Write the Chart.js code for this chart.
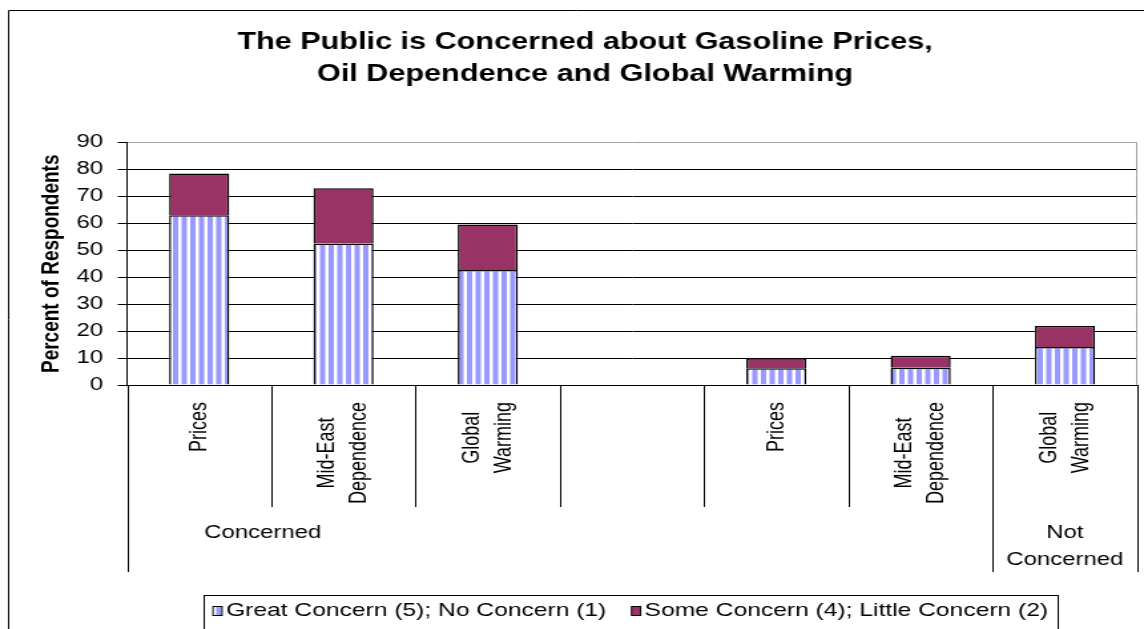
<!DOCTYPE html>
<html><head><meta charset="utf-8">
<script src="https://cdn.jsdelivr.net/npm/chart.js@4/dist/chart.umd.min.js"></script>
<style>
html,body{margin:0;padding:0;background:#fff;overflow:hidden}
#wrap{position:absolute;left:0;top:0;width:860px;height:629px;transform:scaleX(1.33023);transform-origin:0 0}
canvas{display:block}
</style></head><body>
<div id="wrap"><canvas id="c" width="860" height="629"></canvas></div>
<script>
const titleLines = ['The Public is Concerned about Gasoline Prices,', 'Oil Dependence and Global Warming'];
const categories = [['Prices'], ['Mid-East', 'Dependence'], ['Global', 'Warming'], [''], ['Prices'], ['Mid-East', 'Dependence'], ['Global', 'Warming']];
const groupLabels = [['Concerned'], ['Not', 'Concerned']];
const groupSpans = [6, 1];
const seriesNames = ['Great Concern (5); No Concern (1)', 'Some Concern (4); Little Concern (2)'];
const greatConcern = [63, 52.5, 42.7, null, 6.2, 6.4, 14.1];
const someConcern = [15.5, 20.5, 16.9, null, 3.7, 4.5, 7.8];
const yTickValues = [0, 10, 20, 30, 40, 50, 60, 70, 80, 90];
const yAxisTitle = 'Percent of Respondents';

const FONT = '"Liberation Sans", Arial, sans-serif';

// vertical stripe pattern (light blue / white)
const pc = document.createElement('canvas'); pc.width = 13; pc.height = 4;
const pctx = pc.getContext('2d');
pctx.fillStyle = '#ffffff'; pctx.fillRect(0, 0, 13, 4);
pctx.fillStyle = '#9999ff'; pctx.fillRect(0, 0, 4, 4); pctx.fillRect(6.5, 0, 4, 4);
const stripe = pctx.createPattern(pc, 'repeat');
const seriesColors = [stripe, '#993366'];

const deco = {
  id: 'deco',
  afterDraw(chart) {
    const { ctx, chartArea: a } = chart;
    const x = chart.scales.x;
    ctx.save();
    // outer frame
    ctx.strokeStyle = '#000'; ctx.lineWidth = 1;
    ctx.beginPath(); ctx.moveTo(6.5, chart.height); ctx.lineTo(6.5, 10.5); ctx.lineTo(chart.width, 10.5); ctx.stroke();
    // plot area right border
    ctx.strokeStyle = '#a0a0a0';
    ctx.beginPath(); ctx.moveTo(Math.round(a.right) - 0.5, a.top); ctx.lineTo(Math.round(a.right) - 0.5, a.bottom); ctx.stroke();
    // category dividers
    const groupBounds = [0]; let acc = 0; groupSpans.forEach(s => { acc += s; groupBounds.push(acc); });
    ctx.strokeStyle = '#000';
    for (let i = 0; i <= categories.length; i++) {
      const px = Math.round(x.getPixelForValue(i - 0.5)) + 0.5;
      const len = groupBounds.includes(i) ? 187 : 122;
      ctx.beginPath(); ctx.moveTo(px, a.bottom); ctx.lineTo(px, a.bottom + len); ctx.stroke();
    }
    // category labels (rotated)
    ctx.fillStyle = '#000';
    ctx.font = '18px ' + FONT;
    ctx.textAlign = 'center'; ctx.textBaseline = 'middle';
    categories.forEach((lines, i) => {
      const cx = x.getPixelForValue(i);
      const maxW = Math.max(0, ...lines.map(l => ctx.measureText(l).width));
      const cy = a.bottom + 17 + maxW / 2;
      lines.forEach((l, j) => {
        ctx.save();
        ctx.translate(cx + (j - (lines.length - 1) / 2) * 24, cy);
        ctx.rotate(-Math.PI / 2);
        ctx.fillText(l, 0, 0);
        ctx.restore();
      });
    });
    // group labels
    let start = 0;
    groupLabels.forEach((lines, g) => {
      const span = groupSpans[g];
      const gx = span > 1 ? x.getPixelForValue(start + 0.44) : x.getPixelForValue(start + (span - 1) / 2);
      lines.forEach((l, j) => {
        const ly = a.bottom + 148.5 + (j - (lines.length - 1) / 2) * 26.5 + (lines.length > 1 ? 13.25 : 0);
        ctx.fillText(l, gx, ly);
      });
      start += span;
    });
    // legend
    ctx.font = '18.5px ' + FONT;
    ctx.textAlign = 'left';
    const boxW = 6.8, boxH = 9, gapBT = 3, gapItems = 19;
    const widths = seriesNames.map(s => ctx.measureText(s).width);
    let total = 0;
    widths.forEach((w, i) => { total += boxW + gapBT + w + (i < widths.length - 1 ? gapItems : 0); });
    let lx = 474 - total / 2;
    const ly = 611;
    ctx.strokeStyle = '#000'; ctx.lineWidth = 1;
    ctx.strokeRect(Math.round(lx - 7) + 0.5, 595.5, Math.round(total + 14), 34);
    seriesNames.forEach((s, i) => {
      ctx.fillStyle = chart.data.datasets[i].backgroundColor;
      ctx.fillRect(lx, ly - boxH / 2, boxW, boxH);
      ctx.strokeRect(lx, ly - boxH / 2, boxW, boxH);
      ctx.fillStyle = '#000';
      ctx.fillText(s, lx + boxW + gapBT, ly);
      lx += boxW + gapBT + widths[i] + gapItems;
    });
    ctx.restore();
  }
};

new Chart(document.getElementById('c'), {
  type: 'bar',
  data: {
    labels: categories,
    datasets: [
      { label: seriesNames[0], data: greatConcern, backgroundColor: seriesColors[0], borderColor: '#000', borderWidth: 1.5, barPercentage: 0.4167, categoryPercentage: 1 },
      { label: seriesNames[1], data: someConcern, backgroundColor: seriesColors[1], borderColor: '#000', borderWidth: 1.5, barPercentage: 0.4167, categoryPercentage: 1 }
    ]
  },
  options: {
    responsive: false,
    devicePixelRatio: 1,
    animation: false,
    layout: { padding: { left: 24.8, right: 5.2, top: 0, bottom: 0 } },
    plugins: {
      legend: { display: false },
      tooltip: { enabled: false },
      title: {
        display: true, text: titleLines, color: '#000',
        font: { family: FONT, size: 23, weight: 'bold', lineHeight: 1.41 },
        padding: { top: 26.25, bottom: 51.4 }
      }
    },
    scales: {
      x: {
        stacked: true,
        offset: true,
        grid: { display: false },
        border: { display: true, color: '#000', width: 1 },
        ticks: { display: false },
        afterFit: s => { s.height = 244; }
      },
      y: {
        stacked: true,
        min: 0, max: 90,
        afterBuildTicks: s => { s.ticks = yTickValues.map(v => ({ value: v })); },
        afterFit: s => { s.width = 70.7; },
        grid: {
          color: c => (c.tick && c.tick.value === 90) ? '#a0a0a0' : '#000',
          tickColor: '#000', tickLength: 7, lineWidth: 1
        },
        border: { display: true, color: '#000', width: 1 },
        ticks: { color: '#000', padding: 11, font: { family: FONT, size: 18 } },
        title: {
          display: true, text: yAxisTitle, color: '#000',
          font: { family: FONT, size: 19, weight: 'bold' },
          padding: { top: 2.1, bottom: 0 }
        }
      }
    }
  },
  plugins: [deco]
});
</script>
</body></html>
